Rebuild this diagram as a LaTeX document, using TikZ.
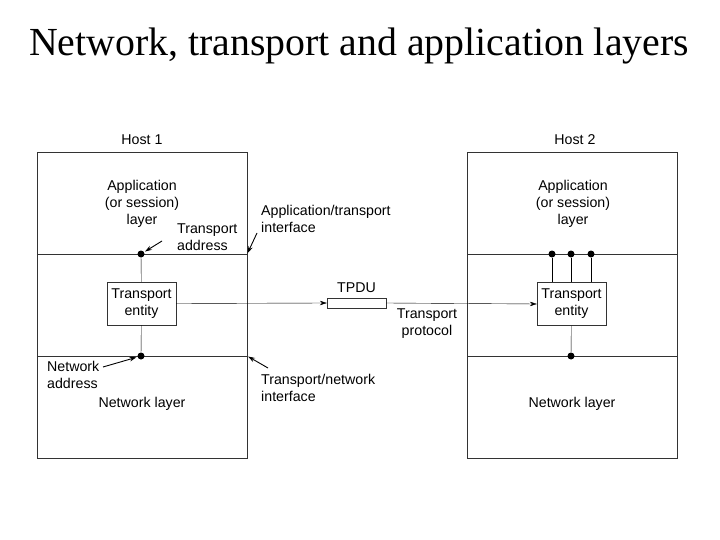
\documentclass[tikz,border=0pt]{standalone}
\usepackage{fontspec}
\setmainfont{Liberation Sans}
\newfontfamily\titlefont{Liberation Serif}
\usetikzlibrary{
  arrows.meta,
  positioning,  % Function "of" (e.g. [right=of x])
  calc,         % Calculations $...$
}
\def\myhostw{210pt}
\def\myhosth{306pt}
\tikzset{
  font=\fontsize{14.2}{17}\selectfont,
  line width=1.1pt,
  >={Stealth[length=7pt,width=4.5pt]},
  my host/.style={
    draw=black!80,
    minimum width=\myhostw,
    minimum height=\myhosth,
    inner sep=0pt,
    rectangle
  },
  my entity/.style={
    draw=black!80,
    align=center,
    minimum width=69pt,
    minimum height=43pt,
    inner sep=1pt,
    rectangle
  },
  my tpdu/.style={
    draw=black!80,
    minimum width=59pt,
    minimum height=10pt,
    inner sep=0pt,
    rectangle
  },
  my dot/.style={
    fill=black,
    circle,
    inner sep=0pt,
    minimum size=7pt
  },
  my label/.style={
    align=center,
    inner sep=0pt
  },
  my note/.style={
    align=left,
    inner sep=0pt
  },
  my layer/.style={
    draw=black!80
  },
  my pointer/.style={
    ->,
    >={Stealth[length=7pt,width=4.5pt]},
    line width=0.9pt,
    shorten >=1pt
  }
}
\begin{document}
\begin{tikzpicture}[x=1pt,y=-1pt]
\useasboundingbox (0,0) rectangle (720,540);
\node[font=\titlefont\fontsize{39.8}{46}\selectfont] (title) at (359,46) {Network, transport and application layers};
% hosts
\node[my host] (h1) at (142,305) {};
\node[my host] (h2) at (572.5,305) {};
\node[my label] (h1name) at (142,140) {Host 1};
\node[my label] (h2name) at (575,140) {Host 2};
% layer boundaries
\foreach \h in {h1,h2}{
  \coordinate (\h ta-w) at (\h.west |- 0,254);
  \coordinate (\h ta-e) at (\h.east |- 0,254);
  \coordinate (\h tn-w) at (\h.west |- 0,356);
  \coordinate (\h tn-e) at (\h.east |- 0,356);
  \draw[my layer] (\h ta-w) -- (\h ta-e);
  \draw[my layer] (\h tn-w) -- (\h tn-e);
}
\node[my label] (h1app) at (142,204) {Application\\(or session)\\layer};
\node[my label] (h2app) at (573,204) {Application\\(or session)\\layer};
\node[my label] (h1net) at (142,404) {Network layer};
\node[my label] (h2net) at (572,404) {Network layer};
% transport entities
\node[my entity] (te1) at (141.5,303.5) {Transport\\entity};
\node[my entity] (te2) at (571.5,304) {Transport\\entity};
\node[my dot] (d1) at (141,254) {};
\node[my dot] (d2) at (141,356) {};
\draw (d1) -- (te1);
\draw (te1) -- (d2);
\foreach \x/\n in {552/a,571/b,591/c}{
  \node[my dot] (d2\n) at (\x,254) {};
  \draw (d2\n) -- (d2\n |- te2.north);
}
\node[my dot] (d3) at (571,356) {};
\draw (te2) -- (d3);
% protocol
\node[my tpdu] (tpdu) at (356.5,303) {};
\node[my label, above=5pt of tpdu] (tpduname) {TPDU};
\draw[->] (te1.east) -- (tpdu.west);
\draw[->] (tpdu.east) -- (te2.west);
\node[my label] (proto) at (427,324) {Transport\\protocol};
% notes
\node[my note, anchor=west] (taddr) at (177,237) {Transport\\address};
\node[my note, anchor=west] (atif) at (261,219) {Application/transport\\interface};
\node[my note, anchor=west] (naddr) at (47,375) {Network\\address};
\node[my note, anchor=west] (tnif) at (261,388) {Transport/network\\interface};
\coordinate (taddr-p) at (162,241);
\coordinate (atif-p) at (257,233);
\coordinate (naddr-p) at (103,367);
\coordinate (tnif-p) at (268,368);
\draw[my pointer] (taddr-p) -- (d1);
\draw[my pointer] (atif-p) -- (h1ta-e);
\draw[my pointer] (naddr-p) -- (d2);
\draw[my pointer] (tnif-p) -- (h1tn-e);
\end{tikzpicture}
\end{document}
